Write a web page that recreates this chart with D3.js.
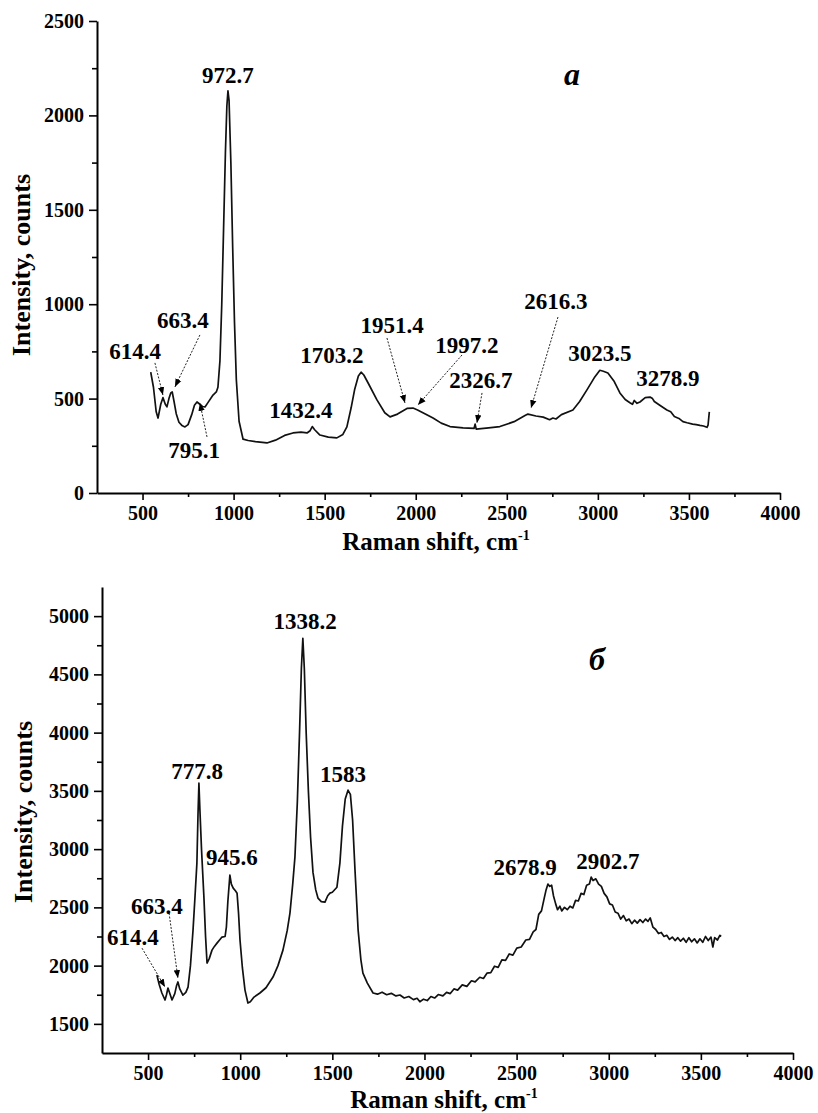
<!doctype html>
<html>
  <head>
    <style>
      body { margin: 0; background: #fff; }
      svg text { font-family: 'Liberation Serif', 'Times New Roman', serif; font-weight: bold; fill: #000; }
    </style>
  </head>
  <body>
    <svg width="818" height="1113" id="content"></svg>

    <script src="https://cdnjs.cloudflare.com/ajax/libs/d3/7.8.5/d3.min.js"></script>
    <script>
      // ---- spectrum a (upper panel) ----
      const shiftA = [545, 560, 575, 585, 600, 612, 625, 634, 645, 655, 663, 672, 685, 700, 716, 733, 750, 770, 785, 799,
        815, 830, 843, 860, 887, 905, 914, 925, 935, 945, 955, 963, 969, 975, 985, 995, 1005, 1015, 1030, 1052,
        1080, 1120, 1183, 1230, 1280, 1326, 1370, 1403, 1420, 1432, 1445, 1474, 1520, 1567, 1600, 1622, 1645, 1665, 1685, 1700,
        1715, 1740, 1787, 1830, 1859, 1900, 1952, 1985, 2010, 2050, 2095, 2140, 2188, 2260, 2320, 2326, 2332, 2400, 2462, 2540,
        2600, 2616, 2660, 2700, 2735, 2753, 2770, 2800, 2863, 2900, 2940, 2980, 3011, 3030, 3055, 3090, 3121, 3150, 3176, 3190,
        3200, 3215, 3231, 3260, 3286, 3300, 3310, 3340, 3379, 3400, 3420, 3445, 3467, 3490, 3520, 3540, 3560, 3580, 3599, 3605, 3612]
      const countsA = [640, 560, 430, 397, 470, 505, 470, 456, 500, 530, 535, 490, 420, 375, 358, 350, 362, 415, 465, 482,
        470, 458, 456, 480, 519, 535, 560, 700, 1000, 1400, 1800, 2050, 2130, 2080, 1750, 1300, 900, 600, 380, 285,
        278, 272, 265, 280, 305, 318, 322, 318, 330, 352, 335, 307, 296, 292, 310, 350, 450, 550, 620, 640,
        625, 580, 493, 425, 403, 418, 448, 450, 440, 420, 397, 370, 352, 345, 342, 365, 338, 345, 352, 378,
        410, 418, 408, 402, 388, 397, 392, 415, 440, 485, 546, 610, 650, 645, 636, 590, 530, 495, 478, 470,
        490, 475, 482, 505, 508, 500, 485, 465, 440, 430, 405, 395, 378, 372, 365, 362, 358, 355, 348, 360, 430]

      const labelsA = ['972.7', '614.4', '663.4', '795.1', '1432.4', '1703.2', '1951.4', '1997.2', '2326.7', '2616.3', '3023.5', '3278.9']
      // label anchor (shift, counts) -> text centre / baseline
      const labelAtA = [[969, 2172], [459, 710], [722, 874], [783, 185], [1370, 397], [1540, 689], [1870, 848],
        [2281, 742], [2358, 556], [2770, 975], [3011, 699], [3385, 567]]
      // arrows from label to peak
      const arrowsA = [
        [[568, 689], [612, 519]],
        [[815, 837], [678, 562]],
        [[854, 297], [815, 477]],
        [[1842, 821], [1941, 477]],
        [[2254, 731], [2012, 466]],
        [[2364, 530], [2336, 371]],
        [[2781, 932], [2633, 450]]
      ]

      // ---- spectrum b (lower panel) ----
      const shiftB = [548, 560, 575, 592, 600, 608, 618, 630, 645, 655, 662, 672, 689, 705, 717, 730, 744, 755, 765, 771,
        776, 781, 790, 803, 812, 820, 832, 847, 860, 874, 888, 901, 918, 925, 933, 944, 952, 962, 975, 983,
        991, 999, 1012, 1026, 1042, 1055, 1075, 1107, 1140, 1178, 1205, 1232, 1255, 1270, 1285, 1297, 1310, 1322, 1332, 1340,
        1348, 1358, 1370, 1382, 1395, 1410, 1422, 1440, 1460, 1475, 1487, 1500, 1525, 1541, 1555, 1570, 1585, 1598, 1610, 1623,
        1640, 1655, 1666, 1690, 1721, 1745, 1770, 1795, 1820, 1845, 1867, 1890, 1915, 1940, 1960, 1975, 1995, 2015, 2035, 2055,
        2075, 2100, 2120, 2140, 2160, 2180, 2205, 2230, 2255, 2275, 2300, 2320, 2339, 2360, 2380, 2400, 2420, 2440, 2460, 2480,
        2501, 2525, 2550, 2570, 2590, 2605, 2620, 2635, 2650, 2660, 2670, 2680, 2690, 2700, 2712, 2722, 2735, 2745, 2760, 2775,
        2790, 2805, 2820, 2835, 2850, 2865, 2880, 2895, 2905, 2915, 2930, 2945, 2960, 2975, 2990, 3005, 3020, 3035, 3050, 3065,
        3080, 3095, 3110, 3125, 3140, 3155, 3170, 3185, 3200, 3213, 3225, 3240, 3255, 3270, 3285, 3300, 3315, 3330, 3345, 3360,
        3375, 3390, 3405, 3420, 3435, 3450, 3465, 3480, 3495, 3510, 3525, 3540, 3555, 3565, 3575, 3590, 3603, 3610]
      const countsB = [1920, 1840, 1765, 1705, 1750, 1808, 1760, 1705, 1760, 1830, 1860, 1800, 1747, 1770, 1816, 2000, 2305, 2600, 2880, 3300,
        3566, 3350, 3000, 2590, 2250, 2022, 2060, 2133, 2165, 2193, 2220, 2245, 2250, 2330, 2550, 2777, 2700, 2665, 2640, 2622,
        2450, 2219, 1980, 1790, 1679, 1690, 1730, 1765, 1810, 1902, 2000, 2133, 2300, 2451, 2700, 2931, 3400, 4000, 4550, 4810,
        4550, 4000, 3500, 3100, 2800, 2650, 2580, 2550, 2545, 2600, 2622, 2630, 2673, 2880, 3200, 3430, 3506, 3470, 3250, 2820,
        2305, 2050, 1936, 1850, 1765, 1755, 1772, 1750, 1762, 1740, 1748, 1722, 1735, 1708, 1720, 1690, 1712, 1700, 1735, 1722,
        1752, 1740, 1770, 1760, 1800, 1790, 1835, 1822, 1870, 1860, 1900, 1890, 1935, 1940, 1995, 1985, 2050, 2045, 2100, 2090,
        2150, 2160, 2220, 2225, 2290, 2310, 2440, 2470, 2580, 2650, 2700, 2680, 2690, 2600, 2530, 2480, 2510, 2470, 2500, 2480,
        2510, 2495, 2560, 2555, 2620, 2610, 2690, 2700, 2760, 2730, 2745, 2700, 2680, 2620, 2590, 2530, 2520, 2460, 2450, 2400,
        2430, 2385, 2400, 2360, 2390, 2365, 2395, 2370, 2400, 2380, 2410, 2330, 2310, 2275, 2285, 2250, 2260, 2225, 2245, 2215,
        2240, 2210, 2235, 2200, 2240, 2205, 2230, 2195, 2230, 2200, 2250, 2215, 2245, 2160, 2240, 2220, 2260, 2250]

      const labelsB = ['1338.2', '777.8', '1583', '945.6', '663.4', '614.4', '2678.9', '2902.7']
      const labelAtB = [[1352, 4886], [766, 3600], [1558, 3574], [955, 2862], [548, 2442], [418, 2176], [2546, 2777], [2996, 2828]]
      const arrowsB = [
        [[614, 2451], [662, 1893]],
        [[467, 2150], [592, 1816]]
      ]

      const xMajor = [500, 1000, 1500, 2000, 2500, 3000, 3500, 4000]
      const xMinor = [750, 1250, 1750, 2250, 2750, 3250, 3750]
      const yMajorA = [0, 500, 1000, 1500, 2000, 2500]
      const yMinorA = [250, 750, 1250, 1750, 2250]
      const yMajorB = [1500, 2000, 2500, 3000, 3500, 4000, 4500, 5000]
      const yMinorB = [1750, 2250, 2750, 3250, 3750, 4250, 4750]

      const svg = d3.select('#content')

      svg.append('defs').append('marker')
        .attr('id', 'arrow')
        .attr('viewBox', '0 0 10 10')
        .attr('refX', 10)
        .attr('refY', 5)
        .attr('markerUnits', 'userSpaceOnUse')
        .attr('markerWidth', 8)
        .attr('markerHeight', 8)
        .attr('orient', 'auto')
        .append('path')
        .attr('d', 'M0,1 L10,5 L0,9 z')
        .attr('fill', '#000')

      function drawPanel (opt) {
        const x = d3.scaleLinear().domain([250, 4000]).range([opt.left, opt.right])
        const y = d3.scaleLinear().domain(opt.yDomain).range([opt.bottom, opt.top])
        const g = svg.append('g')

        // axes
        const xAxis = g.append('g')
          .attr('transform', `translate(0,${opt.bottom})`)
          .call(d3.axisBottom(x).tickValues(xMajor).tickSize(7).tickSizeOuter(0).tickPadding(6).tickFormat(d3.format('d')))
        g.append('g')
          .attr('transform', `translate(0,${opt.bottom})`)
          .call(d3.axisBottom(x).tickValues(xMinor).tickSize(4).tickFormat(() => ''))
          .select('.domain').remove()

        const yAxis = g.append('g')
          .attr('transform', `translate(${opt.left},0)`)
          .call(d3.axisLeft(y).tickValues(opt.yMajor).tickSize(8).tickSizeOuter(0).tickPadding(5).tickFormat(d3.format('d')))
        g.append('g')
          .attr('transform', `translate(${opt.left},0)`)
          .call(d3.axisLeft(y).tickValues(opt.yMinor).tickSize(5).tickFormat(() => ''))
          .select('.domain').remove()

        g.selectAll('.domain').attr('stroke-width', 2)
        g.selectAll('.tick line').attr('stroke-width', 1.6)
        g.selectAll('.tick text')
          .attr('font-family', null)
          .style('font-size', '20px')
        xAxis.attr('font-family', null).attr('font-size', null)
        yAxis.attr('font-family', null).attr('font-size', null)

        // spectrum
        const pts = opt.shift.map((s, i) => [s, opt.counts[i]])
        g.append('path')
          .datum(pts)
          .attr('fill', 'none')
          .attr('stroke', '#111')
          .attr('stroke-width', 1.7)
          .attr('stroke-linejoin', 'round')
          .attr('d', d3.line().x(d => x(d[0])).y(d => y(d[1])))

        // arrows
        g.selectAll('.arrow')
          .data(opt.arrows)
          .enter().append('line')
          .attr('class', 'arrow')
          .attr('x1', d => x(d[0][0]))
          .attr('y1', d => y(d[0][1]))
          .attr('x2', d => x(d[1][0]))
          .attr('y2', d => y(d[1][1]))
          .attr('stroke', '#222')
          .attr('stroke-width', 1)
          .attr('stroke-dasharray', '2,1.5')
          .attr('marker-end', 'url(#arrow)')

        // peak labels
        g.selectAll('.peak')
          .data(opt.labels)
          .enter().append('text')
          .attr('class', 'peak')
          .attr('x', (d, i) => x(opt.labelAt[i][0]))
          .attr('y', (d, i) => y(opt.labelAt[i][1]))
          .attr('text-anchor', 'middle')
          .style('font-size', '23px')
          .text(d => d)

        // panel letter
        g.append('text')
          .attr('x', x(opt.letterAt[0]))
          .attr('y', y(opt.letterAt[1]))
          .attr('text-anchor', 'middle')
          .style('font-size', '32px')
          .style('font-style', 'italic')
          .text(opt.letter)

        // axis titles
        const xt = g.append('text')
          .attr('x', opt.xTitle[0])
          .attr('y', opt.xTitle[1])
          .attr('text-anchor', 'middle')
          .style('font-size', '25px')
        xt.append('tspan').text('Raman shift, cm')
        xt.append('tspan').attr('dy', -10).style('font-size', '14px').text('-1')

        g.append('text')
          .attr('transform', `translate(${opt.yTitle[0]},${opt.yTitle[1]}) rotate(-90)`)
          .attr('text-anchor', 'middle')
          .style('font-size', '26px')
          .text('Intensity, counts')
      }

      drawPanel({
        left: 97, right: 780, top: 21, bottom: 493,
        yDomain: [0, 2500], yMajor: yMajorA, yMinor: yMinorA,
        shift: shiftA, counts: countsA,
        labels: labelsA, labelAt: labelAtA, arrows: arrowsA,
        letter: 'a', letterAt: [2858, 2161],
        xTitle: [436, 550], yTitle: [30, 265]
      })

      drawPanel({
        left: 102, right: 793, top: 587, bottom: 1053,
        yDomain: [1250, 5250], yMajor: yMajorB, yMinor: yMinorB,
        shift: shiftB, counts: countsB,
        labels: labelsB, labelAt: labelAtB, arrows: arrowsB,
        letter: 'б', letterAt: [2936, 4535],
        xTitle: [444, 1108], yTitle: [32, 812]
      })
    </script>
  </body>
</html>
